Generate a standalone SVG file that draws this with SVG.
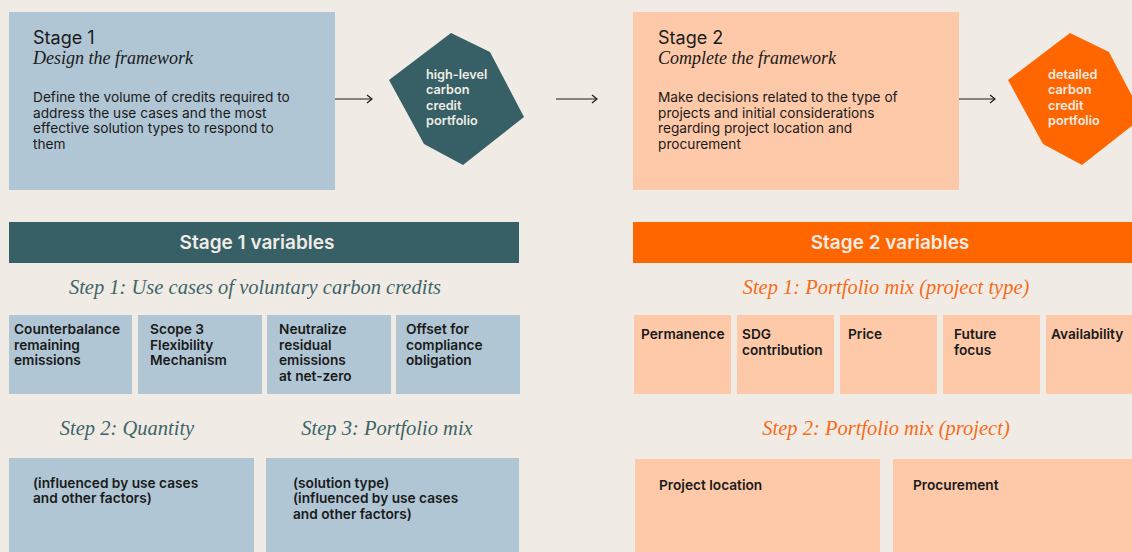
<svg xmlns="http://www.w3.org/2000/svg" width="1132" height="552" viewBox="0 0 1132 552">
<defs>
<marker id="arr" markerWidth="10" markerHeight="10" refX="8" refY="5" orient="auto" markerUnits="userSpaceOnUse">
<polyline points="3,1 8,5 3,9" fill="none" stroke="#1a1a1a" stroke-width="1.2"/>
</marker>
<style>
.bg{fill:#f0ece5}
.blue{fill:#b0c6d4}
.peach{fill:#fec9a8}
.teal{fill:#365f66}
.orange{fill:#ff6600}
.sans{font-family:Inter,"Liberation Sans",Arial,sans-serif;fill:#1a1a1a}
.h{font-size:18px}
.body{font-size:13.7px}
.b{font-weight:600;font-size:13.7px}
.it{font-family:"Liberation Serif","Times New Roman",serif;font-style:italic}
.sub{font-size:18px;fill:#1a1a1a}
.step{font-size:20.5px;text-anchor:middle}
.stept{fill:#3e6468}
.stepo{fill:#f96a17}
.bar{font-family:Inter,"Liberation Sans",Arial,sans-serif;font-weight:600;font-size:19px;fill:#f0ece5;text-anchor:middle}
.hex{font-family:Inter,"Liberation Sans",Arial,sans-serif;font-weight:600;font-size:12.7px;fill:#f0ece5}
.conn{stroke:#1a1a1a;stroke-width:1.2;fill:none}
</style>
</defs>
<rect class="bg" x="0" y="0" width="1132" height="552"/>

<g id="stage1">
<rect class="blue" x="9" y="12" width="326" height="178"/>
<text class="sans h" x="33" y="44">Stage 1</text>
<text class="it sub" x="33" y="64">Design the framework</text>
<text class="sans body" x="33" y="102">Define the volume of credits required to</text>
<text class="sans body" x="33" y="118">address the use cases and the most</text>
<text class="sans body" x="33" y="133">effective solution types to respond to</text>
<text class="sans body" x="33" y="149">them</text>
</g>

<g id="portfolio1">
<polygon class="teal" points="451,33 490,52 524,117 463,165 424,144 389,80"/>
<text class="hex" x="426" y="79">high-level</text>
<text class="hex" x="426" y="94">carbon</text>
<text class="hex" x="426" y="110">credit</text>
<text class="hex" x="426" y="125">portfolio</text>
</g>

<g id="stage2">
<rect class="peach" x="633" y="12" width="326" height="178"/>
<text class="sans h" x="658" y="44">Stage 2</text>
<text class="it sub" x="658" y="64">Complete the framework</text>
<text class="sans body" x="658" y="102">Make decisions related to the type of</text>
<text class="sans body" x="658" y="118">projects and initial considerations</text>
<text class="sans body" x="658" y="133">regarding project location and</text>
<text class="sans body" x="658" y="149">procurement</text>
</g>

<g id="portfolio2">
<polygon class="orange" points="1070,33 1109,52 1143,117 1082,165 1043,144 1008,80"/>
<text class="hex" x="1048" y="79">detailed</text>
<text class="hex" x="1048" y="94">carbon</text>
<text class="hex" x="1048" y="110">credit</text>
<text class="hex" x="1048" y="125">portfolio</text>
</g>

<g id="connectors">
<line class="conn" x1="335" y1="99" x2="372" y2="99" marker-end="url(#arr)"/>
<line class="conn" x1="556" y1="99" x2="597" y2="99" marker-end="url(#arr)"/>
<line class="conn" x1="959" y1="99" x2="995" y2="99" marker-end="url(#arr)"/>
</g>

<g id="stage1-variables">
<rect class="teal" x="9" y="222" width="510" height="41"/>
<text class="bar" x="257" y="249">Stage 1 variables</text>
<text class="it step stept" x="255" y="294">Step 1: Use cases of voluntary carbon credits</text>
</g>

<g id="use-case-1">
<rect class="blue" x="9" y="315" width="123" height="79"/>
<text class="sans b" x="14" y="334">Counterbalance</text>
<text class="sans b" x="14" y="350">remaining</text>
<text class="sans b" x="14" y="365">emissions</text>
</g>
<g id="use-case-2">
<rect class="blue" x="138" y="315" width="124" height="79"/>
<text class="sans b" x="150" y="334">Scope 3</text>
<text class="sans b" x="150" y="350">Flexibility</text>
<text class="sans b" x="150" y="365">Mechanism</text>
</g>
<g id="use-case-3">
<rect class="blue" x="267" y="315" width="124" height="79"/>
<text class="sans b" x="279" y="334">Neutralize</text>
<text class="sans b" x="279" y="350">residual</text>
<text class="sans b" x="279" y="365">emissions</text>
<text class="sans b" x="279" y="381">at net-zero</text>
</g>
<g id="use-case-4">
<rect class="blue" x="396" y="315" width="124" height="79"/>
<text class="sans b" x="406" y="334">Offset for</text>
<text class="sans b" x="406" y="350">compliance</text>
<text class="sans b" x="406" y="365">obligation</text>
</g>

<g id="quantity">
<text class="it step stept" x="127" y="435">Step 2: Quantity</text>
<rect class="blue" x="9" y="458" width="245" height="94"/>
<text class="sans b" x="33" y="488">(influenced by use cases</text>
<text class="sans b" x="33" y="503">and other factors)</text>
</g>

<g id="portfolio-mix">
<text class="it step stept" x="387" y="435">Step 3: Portfolio mix</text>
<rect class="blue" x="266" y="458" width="253" height="94"/>
<text class="sans b" x="293" y="488">(solution type)</text>
<text class="sans b" x="293" y="503">(influenced by use cases</text>
<text class="sans b" x="293" y="519">and other factors)</text>
</g>

<g id="stage2-variables">
<rect class="orange" x="633" y="222" width="499" height="41"/>
<text class="bar" x="890" y="249">Stage 2 variables</text>
<text class="it step stepo" x="886" y="294">Step 1: Portfolio mix (project type)</text>
</g>

<g id="permanence">
<rect class="peach" x="634" y="315" width="97" height="79"/>
<text class="sans b" x="641" y="339">Permanence</text>
</g>
<g id="sdg">
<rect class="peach" x="737" y="315" width="97" height="79"/>
<text class="sans b" x="742" y="339">SDG</text>
<text class="sans b" x="742" y="355">contribution</text>
</g>
<g id="price">
<rect class="peach" x="840" y="315" width="97" height="79"/>
<text class="sans b" x="848" y="339">Price</text>
</g>
<g id="future-focus">
<rect class="peach" x="943" y="315" width="97" height="79"/>
<text class="sans b" x="954" y="339">Future</text>
<text class="sans b" x="954" y="355">focus</text>
</g>
<g id="availability">
<rect class="peach" x="1046" y="315" width="90" height="79"/>
<text class="sans b" x="1051" y="339">Availability</text>
</g>

<g id="project">
<text class="it step stepo" x="886" y="435">Step 2: Portfolio mix (project)</text>
</g>
<g id="project-location">
<rect class="peach" x="635" y="459" width="245" height="93"/>
<text class="sans b" x="659" y="490">Project location</text>
</g>
<g id="procurement">
<rect class="peach" x="893" y="459" width="239" height="93"/>
<text class="sans b" x="913" y="490">Procurement</text>
</g>
</svg>
